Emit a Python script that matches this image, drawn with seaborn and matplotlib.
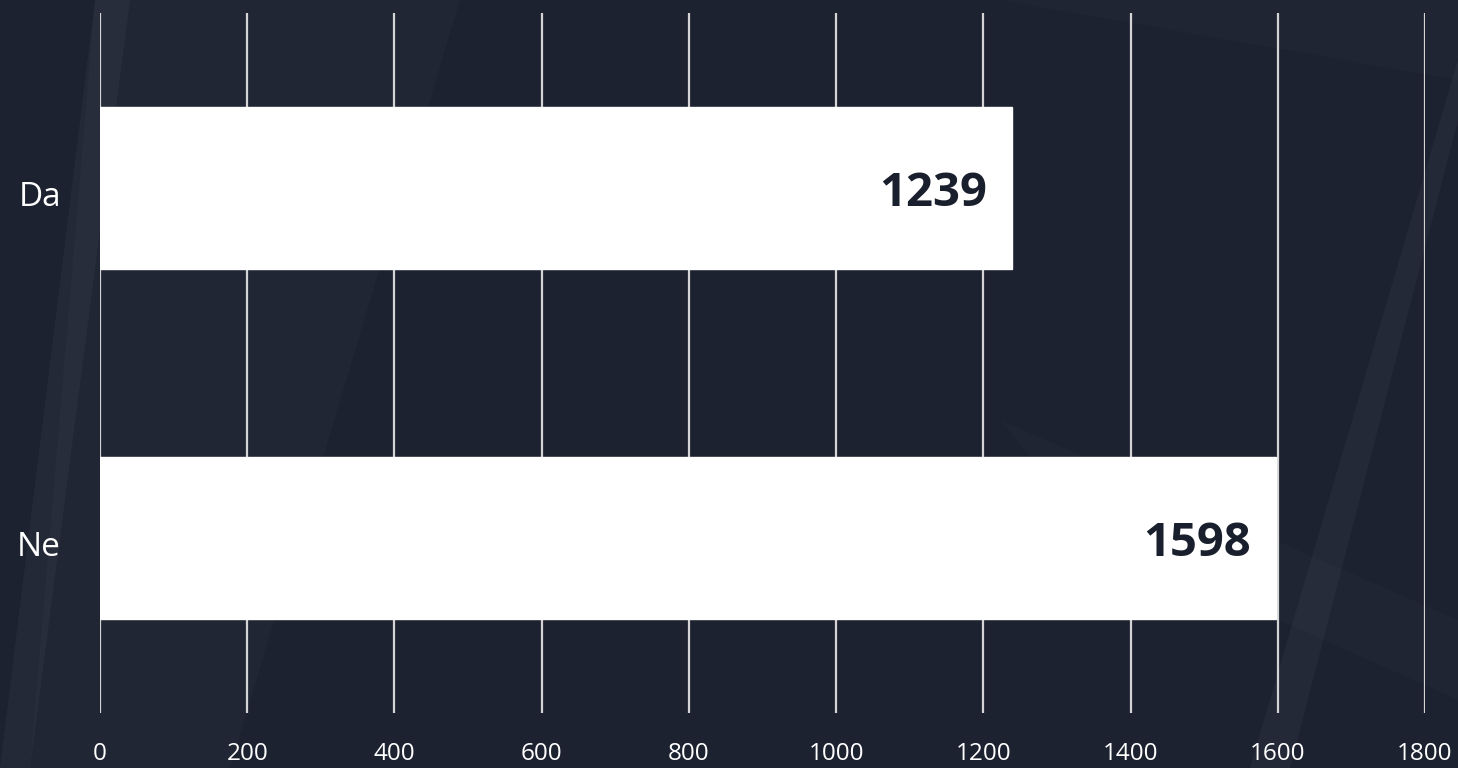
import matplotlib
matplotlib.use("Agg")
import matplotlib.pyplot as plt
import matplotlib.transforms as mtransforms
import seaborn as sns
import pandas as pd
from matplotlib.patches import Polygon

categories = ["Da", "Ne"]
values = [1239, 1598]
x_ticks = [0, 200, 400, 600, 800, 1000, 1200, 1400, 1600, 1800]

sns.set_theme(style="dark")
plt.rcParams['font.family'] = ['Open Sans', 'DejaVu Sans']

bg = "#1d2231"
fig = plt.figure(figsize=(14.58, 7.68), dpi=100, facecolor=bg)

# subtle decorative background shapes
bgax = fig.add_axes([0, 0, 1, 1], zorder=0)
bgax.set_xlim(0, 1458); bgax.set_ylim(768, 0); bgax.axis("off")
bgax.set_facecolor(bg)
shapes = [
    ([(0, 768), (30, 768), (130, 0), (95, 0)], 0.035),
    ([(95, 0), (460, 0), (230, 768), (30, 768)], 0.02),
    ([(1250, 768), (1290, 768), (1458, 120), (1458, 60)], 0.035),
    ([(700, 0), (1458, 0), (1458, 80), (1000, 0)], 0.015),
    ([(1000, 420), (1458, 620), (1458, 700), (1100, 540)], 0.015),
]
for pts, a in shapes:
    bgax.add_patch(Polygon(pts, closed=True, facecolor="white", alpha=a, edgecolor="none"))

ax = fig.add_axes([100/1458, 1-713/768, (1425-100)/1458, 700/768], zorder=1)
ax.patch.set_alpha(0)

df = pd.DataFrame({"category": categories, "value": values})
sns.barplot(data=df, x="value", y="category", orient="h", color="white",
            width=0.465, saturation=1, ax=ax, zorder=3)

for i, v in enumerate(values):
    ax.text(v - 25/0.7361, i + 0.015, str(v), ha="right", va="center",
            fontsize=34, fontweight="bold", color="#1a1f2d", zorder=4)

ax.set_xlim(0, 1800)
ax.set_ylim(1.5, -0.5)
ax.set_xticks(x_ticks)
ax.set_xticklabels([str(t) for t in x_ticks])
ax.grid(axis="x", color="#d4d4d4", linewidth=1.6, zorder=1)
ax.grid(axis="y", visible=False)
ax.set_axisbelow(True)
for s in ax.spines.values():
    s.set_visible(False)
ax.tick_params(axis="x", length=0, pad=21, labelsize=17.5, labelcolor="white")
ax.tick_params(axis="y", length=0, pad=28, labelsize=24, labelcolor="white")
ax.set_xlabel("")
ax.set_ylabel("")

offset = mtransforms.ScaledTranslation(0, -6/100, fig.dpi_scale_trans)
for lbl in ax.get_yticklabels():
    lbl.set_transform(lbl.get_transform() + offset)

fig.savefig("out.png", dpi=100, facecolor=bg)
